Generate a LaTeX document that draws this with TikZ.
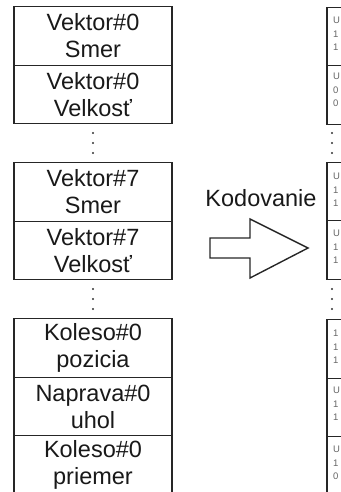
\documentclass[tikz,border=0pt]{standalone}
\usepackage{fontspec}
\setmainfont{Liberation Sans}
\begin{document}
\begin{tikzpicture}[x=1bp,y=-1bp,
  lbox/.style={draw=black!85, line width=1.4bp, minimum width=158bp, minimum height=58.5bp, inner sep=0pt, align=center, font=\fontsize{23.5bp}{27bp}\selectfont, text=black!90},
  rbox/.style={draw=black!85, line width=1.4bp, minimum width=158bp, minimum height=58.5bp, inner sep=0pt},
  rtxt/.style={anchor=west, inner sep=0pt, align=left, font=\fontsize{9.5bp}{13.5bp}\selectfont, text=black!60},
  lbl/.style={inner sep=0pt, font=\fontsize{23.5bp}{27bp}\selectfont, text=black!90},
  dotc/.style={fill=black!80}
]
\useasboundingbox (0,0) rectangle (340,492);
% left column
\node[lbox] (l1) at (93,36) {Vektor\#0\\Smer};
\node[lbox] (l2) at (93,94.5) {Vektor\#0\\Velkosť};
\node[lbox] (l3) at (93,192) {Vektor\#7\\Smer};
\node[lbox] (l4) at (93,250.5) {Vektor\#7\\Velkosť};
\node[lbox] (l5) at (93,348) {Koleso\#0\\pozicia};
\node[lbox] (l6) at (93,406.5) {Naprava\#0\\uhol};
\node[lbox] (l7) at (93,465) {Koleso\#0\\priemer};
% right column
\node[rbox] (r1) at (406,36.5) {};
\node[rbox] (r2) at (406,95) {};
\node[rbox] (r3) at (406,191.5) {};
\node[rbox] (r4) at (406,250) {};
\node[rbox] (r5) at (406,349) {};
\node[rbox] (r6) at (406,407.5) {};
\node[rbox] (r7) at (406,466) {};
\node[rtxt] (t1) at (333,34) {U\\1\\1};
\node[rtxt] (t2) at (333,90) {U\\0\\0};
\node[rtxt] (t3) at (333,190) {U\\1\\1};
\node[rtxt] (t4) at (333,247) {U\\1\\1};
\node[rtxt] (t5) at (333,347) {1\\1\\1};
\node[rtxt] (t6) at (333,404) {U\\1\\1};
\node[rtxt] (t7) at (333,463) {U\\1\\0};
% dots
\foreach \y in {133,143,153,289,299,309} {
  \fill[dotc] (93,\y) circle (1.1);
  \fill[dotc] (332,\y) circle (1.1);
}
% label and arrow
\node[lbl] (kod) at (261,198) {Kodovanie};
\draw[draw=black!85, line width=1.4bp, line join=miter]
  (210,238) -- (250,238) -- (250,219) -- (308,248) -- (250,278) -- (250,258) -- (210,258) -- cycle;
\end{tikzpicture}
\end{document}
